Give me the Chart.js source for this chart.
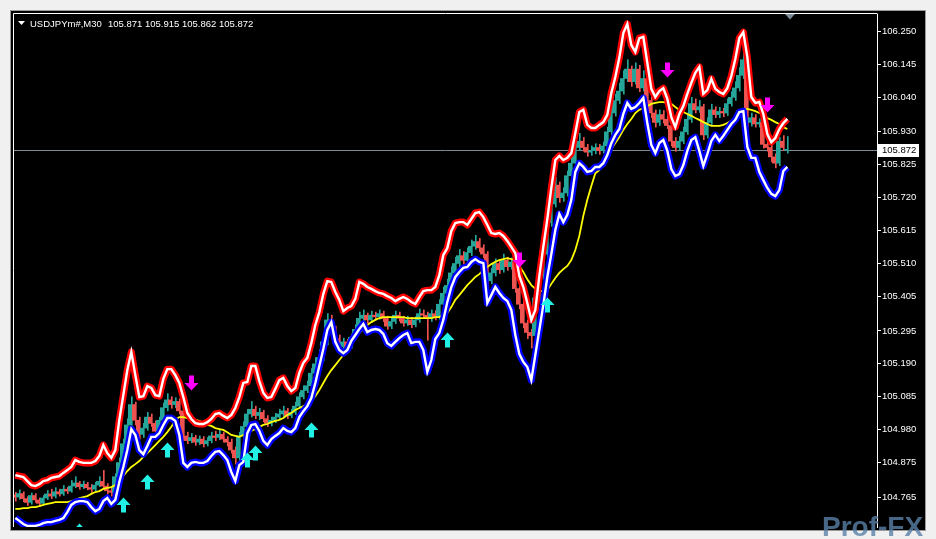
<!DOCTYPE html>
<html><head><meta charset="utf-8">
<script src="https://cdn.jsdelivr.net/npm/chart.js@4.4.1/dist/chart.umd.min.js"></script>
<style>
html,body{margin:0;padding:0;background:#f0f0f0;overflow:hidden}
canvas{display:block}
</style></head><body>
<canvas id="c" width="936" height="539"></canvas>
<script>
// ---------- DATA ----------
const symbolTitle = 'USDJPYm#,M30';
const lastQuote = [105.871, 105.915, 105.862, 105.872];
const currentPrice = 105.872;
const tickValues = [106.250,106.145,106.040,105.930,105.825,105.720,105.615,105.510,105.405,105.295,105.190,105.085,104.980,104.875,104.765];

const opens = [
104.772,104.765,104.776,104.760,104.748,104.770,104.756,104.745,104.762,104.775,
104.768,104.782,104.775,104.790,104.784,104.800,104.810,104.798,104.806,104.795,
104.790,104.803,104.815,104.800,104.785,104.780,104.830,104.875,104.935,104.995,
105.060,105.010,104.965,104.985,105.020,105.000,104.975,105.010,105.050,105.075,
105.060,105.070,105.040,104.960,104.945,104.955,104.940,104.950,104.935,104.945,
104.960,104.955,104.965,104.950,104.940,104.915,104.890,104.960,104.990,105.030,
105.045,105.025,105.035,105.015,105.000,105.010,105.020,105.030,105.040,105.025,
105.035,105.055,105.085,105.105,105.120,105.160,105.190,105.210,105.260,105.330,
105.300,105.270,105.245,105.260,105.245,105.275,105.300,105.335,105.345,105.330,
105.345,105.340,105.350,105.335,105.310,105.325,105.345,105.335,105.320,105.330,
105.315,105.330,105.350,105.345,105.335,105.350,105.340,105.380,105.415,105.440,
105.480,105.510,105.535,105.520,105.545,105.565,105.580,105.560,105.540,105.455,
105.480,105.510,105.490,105.520,105.500,105.515,105.430,105.380,105.320,105.290,
105.280,105.400,105.470,105.540,105.640,105.700,105.760,105.720,105.735,105.790,
105.830,105.880,105.900,105.880,105.865,105.870,105.880,105.870,105.885,105.930,
105.990,106.030,106.060,106.100,106.130,106.090,106.130,106.070,106.100,106.030,
105.990,105.960,105.985,105.970,105.950,105.900,105.880,105.900,105.930,105.970,
106.020,106.000,106.010,105.920,105.960,106.000,105.985,105.995,105.990,106.020,
106.040,106.070,106.110,106.160,105.960,105.975,105.955,105.960,105.890,105.880,
105.850,105.830,105.900,105.871];
const highs = [
104.780,104.788,104.782,104.766,104.778,104.776,104.762,104.770,104.786,104.790,
104.795,104.790,104.802,104.796,104.818,104.830,104.815,104.816,104.812,104.805,
104.812,104.830,104.850,104.808,104.795,104.840,104.890,104.950,105.015,105.085,
105.068,105.020,105.000,105.035,105.030,105.008,105.020,105.065,105.095,105.085,
105.082,105.078,105.048,104.972,104.968,104.962,104.960,104.958,104.955,104.972,
104.975,104.980,104.972,104.958,104.950,104.925,104.972,105.005,105.045,105.070,
105.055,105.048,105.042,105.025,105.020,105.032,105.045,105.055,105.048,105.045,
105.068,105.098,105.120,105.135,105.175,105.210,105.235,105.280,105.350,105.345,
105.310,105.282,105.272,105.268,105.285,105.315,105.355,105.362,105.352,105.358,
105.355,105.362,105.358,105.342,105.335,105.358,105.355,105.342,105.342,105.338,
105.340,105.365,105.362,105.355,105.362,105.360,105.395,105.435,105.460,105.500,
105.530,105.555,105.548,105.560,105.585,105.600,105.590,105.570,105.548,105.495,
105.525,105.522,105.540,105.530,105.528,105.522,105.440,105.392,105.330,105.300,
105.412,105.485,105.560,105.660,105.725,105.785,105.770,105.752,105.805,105.850,
105.905,105.925,105.912,105.890,105.885,105.892,105.890,105.898,105.945,106.010,
106.050,106.085,106.125,106.160,106.140,106.150,106.142,106.125,106.110,106.042,
106.000,106.000,105.998,105.985,105.962,105.912,105.915,105.945,105.990,106.040,
106.035,106.030,106.018,105.975,106.018,106.010,106.008,106.005,106.035,106.058,
106.090,106.135,106.190,106.170,105.990,105.985,105.972,105.968,105.900,105.888,
105.860,105.912,105.918,105.915];
const lows = [
104.752,104.758,104.750,104.738,104.742,104.748,104.735,104.740,104.757,104.760,
104.762,104.768,104.770,104.776,104.780,104.795,104.790,104.792,104.788,104.780,
104.785,104.798,104.792,104.775,104.768,104.775,104.822,104.868,104.925,104.985,
104.995,104.950,104.955,104.978,104.990,104.962,104.968,105.002,105.040,105.048,
105.050,105.030,104.945,104.935,104.938,104.930,104.932,104.925,104.928,104.938,
104.945,104.948,104.940,104.928,104.905,104.870,104.882,104.950,104.982,105.020,
105.015,105.012,105.005,104.990,104.992,105.002,105.012,105.022,105.015,105.018,
105.028,105.048,105.078,105.098,105.112,105.150,105.180,105.200,105.250,105.290,
105.258,105.232,105.238,105.235,105.240,105.268,105.292,105.325,105.320,105.322,
105.330,105.332,105.325,105.300,105.302,105.318,105.326,105.310,105.312,105.305,
105.308,105.322,105.335,105.265,105.325,105.330,105.332,105.372,105.405,105.430,
105.470,105.500,105.508,105.512,105.535,105.555,105.548,105.528,105.440,105.445,
105.470,105.478,105.482,105.488,105.492,105.418,105.365,105.305,105.270,105.240,
105.268,105.390,105.460,105.530,105.628,105.690,105.705,105.708,105.725,105.780,
105.820,105.870,105.868,105.852,105.855,105.860,105.858,105.862,105.878,105.920,
105.980,106.020,106.050,106.090,106.075,106.082,106.058,106.060,106.015,105.975,
105.945,105.950,105.958,105.940,105.885,105.868,105.872,105.892,105.922,105.960,
105.990,105.992,105.905,105.910,105.952,105.975,105.975,105.978,105.982,106.012,
106.030,106.060,106.100,105.945,105.948,105.945,105.945,105.878,105.868,105.835,
105.815,105.822,105.870,105.862];
const closes = [
104.765,104.776,104.760,104.748,104.770,104.756,104.745,104.762,104.775,104.768,
104.782,104.775,104.790,104.784,104.800,104.810,104.798,104.806,104.795,104.790,
104.803,104.815,104.800,104.785,104.780,104.830,104.875,104.935,104.995,105.060,
105.010,104.965,104.985,105.020,105.000,104.975,105.010,105.050,105.075,105.060,
105.070,105.040,104.960,104.945,104.955,104.940,104.950,104.935,104.945,104.960,
104.955,104.965,104.950,104.940,104.915,104.890,104.960,104.990,105.030,105.045,
105.025,105.035,105.015,105.000,105.010,105.020,105.030,105.040,105.025,105.035,
105.055,105.085,105.105,105.120,105.160,105.190,105.210,105.260,105.330,105.300,
105.270,105.245,105.260,105.245,105.275,105.300,105.335,105.345,105.330,105.345,
105.340,105.350,105.335,105.310,105.325,105.345,105.335,105.320,105.330,105.315,
105.330,105.350,105.345,105.335,105.350,105.340,105.380,105.415,105.440,105.480,
105.510,105.535,105.520,105.545,105.565,105.580,105.560,105.540,105.455,105.480,
105.510,105.490,105.520,105.500,105.515,105.430,105.380,105.320,105.290,105.280,
105.400,105.470,105.540,105.640,105.700,105.760,105.720,105.735,105.790,105.830,
105.880,105.900,105.880,105.865,105.870,105.880,105.870,105.885,105.930,105.990,
106.030,106.060,106.100,106.130,106.090,106.130,106.070,106.100,106.030,105.990,
105.960,105.985,105.970,105.950,105.900,105.880,105.900,105.930,105.970,106.020,
106.000,106.010,105.920,105.960,106.000,105.985,105.995,105.990,106.020,106.040,
106.070,106.110,106.160,105.960,105.975,105.955,105.960,105.890,105.880,105.850,
105.830,105.900,105.880,105.872];

const upperBand = [
104.835,104.832,104.829,104.816,104.803,104.800,104.806,104.816,104.819,104.826,
104.829,104.832,104.842,104.851,104.861,104.883,104.877,104.874,104.874,104.874,
104.880,104.896,104.931,104.905,104.890,104.915,105.011,105.090,105.170,105.228,
105.154,105.084,105.087,105.119,105.113,105.090,105.087,105.142,105.173,105.173,
105.154,105.129,105.084,105.033,105.014,105.001,104.998,104.998,105.004,105.014,
105.030,105.033,105.024,105.017,105.027,105.049,105.084,105.129,105.132,105.183,
105.183,105.135,105.097,105.081,105.084,105.110,105.138,105.145,105.119,105.103,
105.113,105.161,105.193,105.209,105.256,105.314,105.355,105.413,105.454,105.451,
105.419,105.394,105.358,105.368,105.374,105.397,105.451,105.445,105.435,105.429,
105.422,105.416,105.413,105.406,105.400,105.390,105.397,105.403,105.397,105.387,
105.381,105.403,105.422,105.425,105.425,105.435,105.473,105.537,105.559,105.614,
105.639,105.642,105.642,105.633,105.652,105.671,105.674,105.658,105.633,105.607,
105.604,105.607,105.598,105.582,105.563,105.543,105.470,105.435,105.384,105.330,
105.362,105.470,105.563,105.652,105.751,105.840,105.853,105.840,105.847,105.862,
105.926,105.993,106.000,105.952,105.942,105.942,105.952,105.961,105.984,106.054,
106.105,106.166,106.245,106.274,106.207,106.185,106.229,106.233,106.150,106.067,
106.041,106.060,106.069,106.035,105.977,105.945,105.987,106.012,106.051,106.086,
106.118,106.137,106.051,106.063,106.099,106.067,106.057,106.051,106.069,106.108,
106.162,106.229,106.248,106.169,106.041,106.022,106.025,105.987,105.923,105.897,
105.910,105.939,105.958,105.971];
const lowerBand = [
104.698,104.689,104.679,104.673,104.673,104.673,104.676,104.682,104.685,104.685,
104.689,104.692,104.698,104.717,104.740,104.749,104.752,104.752,104.749,104.733,
104.720,104.727,104.752,104.762,104.743,104.756,104.813,104.861,104.915,104.982,
104.963,104.915,104.902,104.928,104.957,104.957,104.969,104.995,105.017,105.017,
105.008,104.963,104.874,104.861,104.874,104.877,104.874,104.874,104.880,104.896,
104.909,104.912,104.899,104.883,104.845,104.816,104.867,104.877,104.969,104.995,
104.998,104.976,104.944,104.931,104.950,104.960,104.969,104.985,104.976,104.972,
104.985,105.020,105.039,105.055,105.081,105.129,105.183,105.237,105.298,105.323,
105.260,105.234,105.224,105.234,105.263,105.282,105.301,105.317,105.291,105.298,
105.301,105.298,105.285,105.256,105.247,105.260,105.272,105.282,105.288,105.256,
105.260,105.260,105.234,105.164,105.202,105.269,105.288,105.330,105.387,105.435,
105.467,105.483,105.496,105.499,105.515,105.524,105.515,105.511,105.384,105.409,
105.435,105.416,105.400,105.390,105.362,105.282,105.221,105.196,105.180,105.138,
105.218,105.298,105.378,105.467,105.540,105.617,105.668,105.642,105.665,105.713,
105.802,105.830,105.818,105.802,105.805,105.818,105.818,105.830,105.856,105.894,
105.920,105.939,105.987,106.022,106.003,106.009,106.022,106.038,105.958,105.888,
105.862,105.894,105.904,105.869,105.811,105.789,105.795,105.824,105.869,105.904,
105.913,105.869,105.821,105.859,105.901,105.920,105.901,105.917,105.936,105.955,
105.968,105.993,105.996,105.882,105.847,105.847,105.802,105.776,105.751,105.732,
105.725,105.744,105.805,105.818];
const trendMA = [
104.727,104.727,104.730,104.730,104.733,104.733,104.736,104.740,104.743,104.746,
104.749,104.749,104.749,104.749,104.752,104.756,104.762,104.765,104.768,104.775,
104.781,104.784,104.791,104.794,104.797,104.803,104.816,104.832,104.848,104.861,
104.870,104.880,104.893,104.905,104.918,104.931,104.944,104.957,104.972,104.989,
105.011,105.020,105.020,105.017,105.014,105.011,105.008,105.001,104.995,104.992,
104.985,104.982,104.979,104.972,104.963,104.960,104.957,104.963,104.969,104.976,
104.982,104.989,104.995,104.998,105.004,105.008,105.011,105.017,105.027,105.033,
105.043,105.049,105.055,105.062,105.071,105.087,105.106,105.129,105.151,105.170,
105.186,105.202,105.218,105.234,105.253,105.269,105.288,105.301,105.314,105.323,
105.330,105.336,105.339,105.339,105.339,105.339,105.339,105.339,105.336,105.336,
105.336,105.336,105.336,105.336,105.336,105.339,105.339,105.346,105.352,105.371,
105.394,105.409,105.425,105.441,105.454,105.467,105.476,105.489,105.499,105.508,
105.515,105.521,105.524,105.527,105.524,105.521,105.502,105.483,105.460,105.441,
105.429,105.422,105.422,105.425,105.445,105.464,105.480,105.492,105.502,105.521,
105.553,105.598,105.662,105.713,105.757,105.798,105.808,105.834,105.856,105.875,
105.894,105.913,105.936,105.955,105.971,105.990,106.000,106.006,106.012,106.019,
106.022,106.025,106.025,106.022,106.019,106.009,106.000,105.993,105.987,105.981,
105.974,105.968,105.961,105.955,105.949,105.949,105.949,105.952,105.958,105.965,
105.977,105.993,106.000,106.003,106.000,105.996,105.990,105.984,105.974,105.968,
105.961,105.955,105.945,105.939];

const buyArrowBars   = [16, 27, 33, 38, 58, 60, 74, 108, 133];
const buyArrowPrices = [104.657,104.740,104.813,104.915,104.883,104.905,104.979,105.266,105.378];
const sellArrowBars   = [44, 126, 163, 188];
const sellArrowPrices = [105.129,105.521,106.127,106.016];

// ---------- STYLE / LAYOUT ----------
const BULL = '#26a69a', BEAR = '#ef5350';
const FONT = "'Liberation Sans', Arial, sans-serif";
const Y_MIN = 104.6695, Y_MAX = 106.3058;
const X_MIN = -0.33, X_MAX = 215.42;

const idx = closes.map((_, i) => i);
const isBull = i => closes[i] >= opens[i];
const wickData = idx.map(i => ({x: i, y: [lows[i], highs[i]]}));
const bodyData = idx.map(i => ({x: i, y: [opens[i], closes[i]]}));
const series = arr => arr.map((v, i) => ({x: i, y: v}));

function drawArrow(c, x, y, up, color) {
  c.save();
  c.translate(Math.round(x) + 0.5, Math.round(y));
  if (!up) c.scale(1, -1);
  c.beginPath();
  c.moveTo(0, -7.5);
  c.lineTo(7, 0);
  c.lineTo(2.5, 0);
  c.lineTo(2.5, 7.5);
  c.lineTo(-2.5, 7.5);
  c.lineTo(-2.5, 0);
  c.lineTo(-7, 0);
  c.closePath();
  c.fillStyle = color;
  c.fill();
  c.restore();
}

const mtPlugin = {
  id: 'mt',
  beforeDraw(chart) {
    const c = chart.ctx;
    c.save();
    c.fillStyle = '#f0f0f0';
    c.fillRect(0, 0, chart.width, chart.height);
    c.fillStyle = '#000';
    c.fillRect(11, 11, 914, 519);
    c.strokeStyle = '#9a9a9a';
    c.lineWidth = 1;
    c.strokeRect(10.5, 10.5, 915, 520);
    c.restore();
  },
  beforeDatasetsDraw(chart) {
    const c = chart.ctx, a = chart.chartArea, ys = chart.scales.y;
    const py = Math.round(ys.getPixelForValue(currentPrice)) + 0.5;
    c.save();
    c.strokeStyle = '#7d8b99';
    c.lineWidth = 1;
    c.beginPath();
    c.moveTo(a.left, py);
    c.lineTo(a.right, py);
    c.stroke();
    c.restore();
  },
  afterDatasetsDraw(chart) {
    const c = chart.ctx, a = chart.chartArea, xs = chart.scales.x, ys = chart.scales.y;
    c.save();
    c.beginPath();
    c.rect(a.left, a.top, a.right - a.left, a.bottom - a.top);
    c.clip();
    buyArrowBars.forEach((b, k) => drawArrow(c, xs.getPixelForValue(b), ys.getPixelForValue(buyArrowPrices[k]), true, '#22f2e6'));
    sellArrowBars.forEach((b, k) => drawArrow(c, xs.getPixelForValue(b), ys.getPixelForValue(sellArrowPrices[k]), false, '#ff00ff'));
    c.restore();
  },
  afterDraw(chart) {
    const c = chart.ctx, a = chart.chartArea, ys = chart.scales.y;
    c.save();
    c.strokeStyle = '#ffffff';
    c.lineWidth = 1;
    c.beginPath();
    c.moveTo(a.left - 0.5, a.bottom);
    c.lineTo(a.left - 0.5, a.top - 0.5);
    c.lineTo(a.right + 0.5, a.top - 0.5);
    c.stroke();
    // title
    c.fillStyle = '#ffffff';
    c.beginPath();
    c.moveTo(18, 21); c.lineTo(25, 21); c.lineTo(21.5, 25); c.closePath(); c.fill();
    c.font = '9.5px ' + FONT;
    c.textBaseline = 'alphabetic';
    c.textAlign = 'left';
    c.fillText(symbolTitle, 30, 26.5);
    c.fillText(lastQuote.map(v => v.toFixed(3)).join(' '), 108, 26.5);
    // shift marker
    c.fillStyle = '#7d8b99';
    c.beginPath();
    c.moveTo(785, 14); c.lineTo(795, 14); c.lineTo(790, 19.5); c.closePath(); c.fill();
    // current price box
    const py = Math.round(ys.getPixelForValue(currentPrice));
    c.fillStyle = '#ffffff';
    c.fillRect(878, py - 6, 41, 13);
    c.fillStyle = '#000000';
    c.textBaseline = 'middle';
    c.fillText(currentPrice.toFixed(3), 882, py + 0.5);
    // watermark
    c.globalAlpha = 0.8;
    c.font = 'bold 28px ' + FONT;
    c.textBaseline = 'alphabetic';
    c.fillStyle = '#5a80a8';
    c.fillText('Prof-FX', 822, 536);
    c.restore();
  }
};

new Chart(document.getElementById('c'), {
  type: 'bar',
  data: {
    datasets: [
      {type: 'line', data: series(upperBand), borderColor: '#ffffff', borderWidth: 2.4, pointRadius: 0, tension: 0, order: 3, clip: 0},
      {type: 'line', data: series(upperBand), borderColor: '#ff0000', borderWidth: 7, pointRadius: 0, tension: 0, order: 4, clip: 0, borderJoinStyle: 'round'},
      {type: 'line', data: series(lowerBand), borderColor: '#ffffff', borderWidth: 2.4, pointRadius: 0, tension: 0, order: 1, clip: 0},
      {type: 'line', data: series(lowerBand), borderColor: '#0000ff', borderWidth: 7, pointRadius: 0, tension: 0, order: 2, clip: 0, borderJoinStyle: 'round'},
      {type: 'line', data: series(trendMA), borderColor: '#ffff00', borderWidth: 1.8, pointRadius: 0, tension: 0, order: 5, clip: 0},
      {type: 'bar', data: bodyData, barThickness: 3, minBarLength: 1, order: 8,
       backgroundColor: ctx => isBull(ctx.dataIndex) ? BULL : BEAR, borderWidth: 0},
      {type: 'bar', data: wickData, barThickness: 1, order: 9,
       backgroundColor: ctx => isBull(ctx.dataIndex) ? BULL : BEAR, borderWidth: 0}
    ]
  },
  options: {
    responsive: false,
    devicePixelRatio: 1,
    animation: false,
    events: [],
    layout: {padding: {left: 14, top: 14, right: 12, bottom: 12}},
    plugins: {legend: {display: false}, tooltip: {enabled: false}},
    scales: {
      x: {type: 'linear', min: X_MIN, max: X_MAX, display: false, offset: false, grid: {display: false}},
      y: {
        type: 'linear', position: 'right', min: Y_MIN, max: Y_MAX,
        afterBuildTicks: s => { s.ticks = tickValues.map(v => ({value: v})); },
        afterFit: s => { s.width = 47; },
        ticks: {color: '#ffffff', font: {family: FONT, size: 9.5}, padding: 1, autoSkip: false,
                callback: v => Number(v).toFixed(3)},
        grid: {drawOnChartArea: false, drawTicks: true, tickLength: 4, tickColor: '#ffffff', color: '#ffffff'},
        border: {display: true, color: '#ffffff', width: 1}
      }
    }
  },
  plugins: [mtPlugin]
});
</script>
</body></html>
